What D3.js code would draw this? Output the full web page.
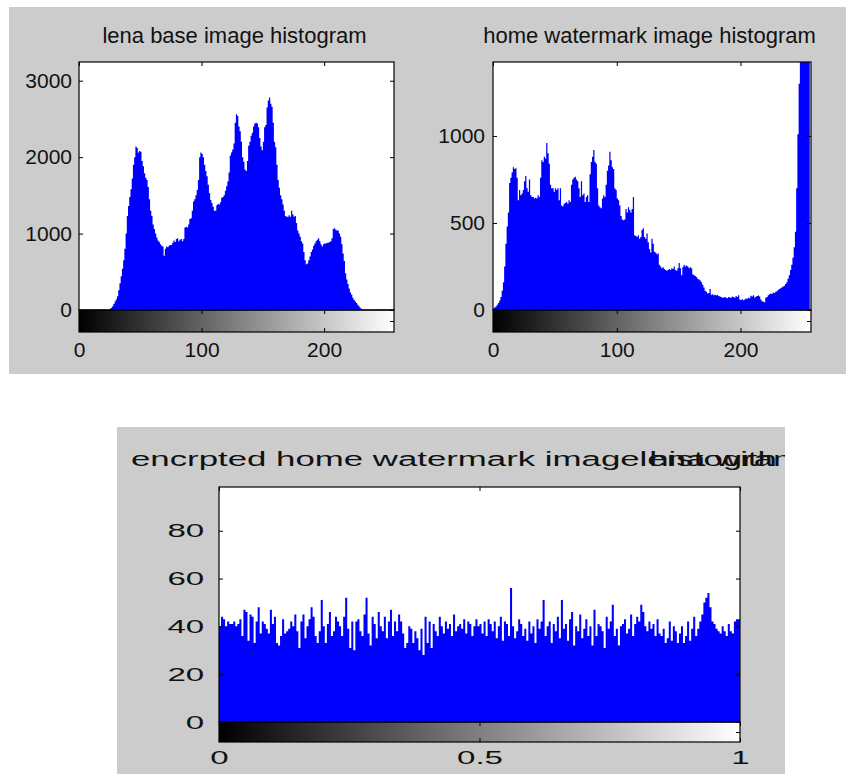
<!DOCTYPE html>
<html>
<head>
<meta charset="utf-8">
<script src="https://cdn.jsdelivr.net/npm/d3@7"></script>
<style>
  body { margin: 0; background: #ffffff; }
  svg { display: block; }
</style>
</head>
<body>
<svg id="chart" width="854" height="774"></svg>
<script>
// Grey-level histogram of the base image (256 bins, levels 0..255)
const lenaCounts = [
  0,0,0,0,0,0,0,0,0,0,0,0,0,0,0,0,
  0,0,0,0,0,0,0,0,0,15,30,50,80,110,140,180,
  260,350,440,540,650,800,1000,1230,1360,1480,1580,1720,1900,2000,2140,2120,
  2060,2080,2070,1950,1880,1790,1730,1700,1610,1450,1300,1230,1120,1060,1000,950,
  910,890,860,840,830,710,800,830,820,840,850,850,880,910,890,930,
  940,900,920,930,900,930,1080,1090,1080,1120,1190,1200,1300,1420,1450,1500,
  1570,1700,2000,2060,2040,2000,1900,1820,1750,1640,1530,1440,1400,1350,1300,1300,
  1370,1390,1380,1410,1470,1480,1500,1560,1620,1680,1800,2020,2060,2100,2180,2450,
  2560,2540,2400,2340,2200,2000,1940,1840,1820,1950,2150,2200,2280,2320,2400,2440,
  2450,2440,2390,2250,2140,2090,2200,2390,2420,2650,2740,2780,2700,2660,2450,2200,
  2130,1900,1700,1600,1500,1450,1380,1300,1230,1220,1220,1240,1220,1300,1250,1220,
  1230,1140,1040,1000,960,900,870,760,650,600,610,650,700,760,790,840,
  870,900,920,940,900,860,830,860,870,870,880,880,890,900,940,1060,
  1070,1050,1040,1040,1000,960,860,740,640,480,400,340,280,230,200,160,
  130,110,90,70,50,30,15,0,0,0,0,0,0,0,0,0,
  0,0,0,0,0,0,0,0,0,0,0,0,0,0,0,0
];

// Grey-level histogram of the watermark image (256 bins)
const homeCounts = [
  10,15,20,30,40,55,75,110,160,250,380,480,560,730,760,790,
  820,810,815,760,630,690,660,670,690,740,770,700,680,750,660,650,
  650,640,645,640,660,650,760,860,850,880,870,960,900,840,720,700,
  700,680,700,690,700,630,700,600,595,610,615,620,610,630,620,720,
  750,760,765,750,740,700,650,740,660,670,620,650,660,620,780,850,
  880,920,850,840,700,600,590,585,640,660,650,720,800,830,910,860,
  820,810,700,690,640,630,600,540,520,515,520,580,560,590,575,560,
  580,650,430,425,420,430,410,420,460,470,420,410,440,390,350,330,
  410,380,335,330,320,325,260,250,240,245,235,230,225,230,235,230,
  240,235,250,230,225,240,270,240,200,245,260,250,255,250,240,245,
  240,205,200,195,190,180,175,170,160,145,130,110,105,95,98,120,
  88,90,85,88,84,86,80,78,75,70,72,74,70,68,75,72,
  70,78,74,70,80,75,85,60,58,62,56,60,66,64,70,68,
  82,78,85,72,76,80,84,78,60,50,48,45,70,75,85,90,
  95,92,100,98,105,108,115,120,125,130,135,140,150,160,180,200,
  230,260,300,360,450,700,1010,1300,1600,1900,2300,2700,3200,3800,4500,5600
];

// Histogram of the encrypted watermark (256 bins over 0..1)
const encryptedCounts = [
  40,44,43,40,42,41,41,42,40,41,43,36,47,46,34,45,
  44,33,42,48,37,42,41,39,37,47,41,44,33,32,36,43,
  37,38,39,42,40,45,38,31,42,45,35,40,43,48,44,36,
  33,38,51,40,33,41,46,36,38,44,42,40,36,44,52,39,
  31,42,30,42,43,38,36,45,52,37,32,44,41,35,46,40,
  38,44,35,42,47,36,42,38,45,42,37,31,33,40,39,33,
  38,35,30,39,28,44,33,42,31,41,38,36,44,40,37,42,
  39,41,36,45,38,40,41,39,43,37,42,41,36,40,43,40,
  41,37,42,36,43,41,38,42,35,40,44,34,42,41,36,56,
  40,35,38,43,41,36,39,34,42,37,40,33,43,39,42,51,
  36,40,42,33,41,38,44,35,51,39,41,34,43,46,32,40,
  38,45,35,39,43,36,40,32,47,36,41,40,38,31,44,39,
  42,49,36,39,32,40,41,43,37,39,45,36,41,44,42,49,
  46,40,38,42,39,41,36,43,37,36,39,33,35,42,34,40,
  38,33,37,40,33,36,42,34,39,44,36,39,42,45,50,52,
  54,48,42,41,39,38,37,40,38,36,41,38,37,42,43,43
];

// Tick values
const lenaYTicks = [0, 1000, 2000, 3000];
const homeYTicks = [0, 500, 1000];
const encYTicks = [0, 20, 40, 60, 80];
const levelXTicks = [0, 100, 200];
const unitXTicks = [0, 0.5, 1];

// Titles
const lenaTitle = "lena base image histogram";
const homeTitle = "home watermark image histogram";
const encTitleHead = "encrpted home watermark image";
const encTitle = encTitleHead + " histogram";
const encOverlayTitle = "lena with watermark histogram";

const FONT = "'Liberation Sans', Arial, Helvetica, sans-serif";
const INK = "#111111";
const FIG_GREY = "#cccccc";
const BAR_BLUE = "#0000ff";

const svg = d3.select("#chart");
const defs = svg.append("defs");

const ramp = defs.append("linearGradient")
  .attr("id", "grayRamp")
  .attr("x1", "0%").attr("x2", "100%").attr("y1", "0%").attr("y2", "0%");
ramp.append("stop").attr("offset", "0%").attr("stop-color", "#000000");
ramp.append("stop").attr("offset", "100%").attr("stop-color", "#ffffff");

// figure backgrounds
svg.append("rect").attr("x", 9).attr("y", 7).attr("width", 837).attr("height", 367).attr("fill", FIG_GREY);
svg.append("rect").attr("x", 117).attr("y", 427).attr("width", 668).attr("height", 347).attr("fill", FIG_GREY);

function styleAxis(sel, fontSize, sx) {
  sel.select(".domain").remove();
  sel.attr("font-family", FONT).attr("font-size", fontSize).attr("color", INK);
  sel.selectAll(".tick line").attr("stroke", "#000").attr("stroke-width", 1);
  sel.selectAll("text").attr("fill", INK);
  if (sx !== 1) sel.selectAll("text").attr("transform", `scale(${sx},1)`);
}

function drawHistogram(o) {
  const g = svg.append("g");
  const x = d3.scaleLinear().domain([0, o.xMax]).range([o.box.left, o.box.right]);
  const y = d3.scaleLinear().domain([0, o.yMax]).range([o.box.zero, o.box.top]);
  const cbY = d3.scaleLinear().domain([0, 1]).range([o.box.cbBottom, o.box.zero]);
  const w = o.box.right - o.box.left;

  g.append("rect")
    .attr("x", o.box.left).attr("y", o.box.top)
    .attr("width", w).attr("height", o.box.zero - o.box.top)
    .attr("fill", "#ffffff");

  defs.append("clipPath").attr("id", o.id + "-clip")
    .append("rect")
    .attr("x", o.box.left).attr("y", o.box.top)
    .attr("width", w).attr("height", o.box.zero - o.box.top);

  const steps = o.counts.map((c, i) => ({ v: i * o.binWidth, c }));
  steps.push({ v: o.counts.length * o.binWidth, c: o.counts[o.counts.length - 1] });

  const area = d3.area()
    .curve(d3.curveStepAfter)
    .x(d => x(d.v))
    .y0(y(0))
    .y1(d => y(d.c));

  g.append("path")
    .datum(steps)
    .attr("d", area)
    .attr("fill", BAR_BLUE)
    .attr("clip-path", `url(#${o.id}-clip)`);

  // colour bar under the histogram
  g.append("rect")
    .attr("x", o.box.left).attr("y", o.box.zero)
    .attr("width", w).attr("height", o.box.cbBottom - o.box.zero)
    .attr("fill", "url(#grayRamp)");

  // frames
  g.append("rect")
    .attr("x", o.box.left).attr("y", o.box.top)
    .attr("width", w).attr("height", o.box.zero - o.box.top)
    .attr("fill", "none").attr("stroke", "#000").attr("stroke-width", 1.2);
  g.append("rect")
    .attr("x", o.box.left).attr("y", o.box.zero)
    .attr("width", w).attr("height", o.box.cbBottom - o.box.zero)
    .attr("fill", "none").attr("stroke", "#000").attr("stroke-width", 1.2);

  // y axis with labels (left), plain ticks (right)
  g.append("g")
    .attr("transform", `translate(${o.box.left},0)`)
    .call(d3.axisLeft(y).tickValues(o.yTicks).tickSizeInner(-4).tickSizeOuter(0)
      .tickPadding(o.yPad).tickFormat(d3.format("d")))
    .call(s => styleAxis(s, o.fontSize, o.sx));
  g.append("g")
    .attr("transform", `translate(${o.box.right},0)`)
    .call(d3.axisRight(y).tickValues(o.yTicks).tickSizeInner(-4).tickSizeOuter(0).tickFormat(""))
    .call(s => styleAxis(s, o.fontSize, 1));

  // top ticks of the histogram axes
  g.append("g")
    .attr("transform", `translate(0,${o.box.top})`)
    .call(d3.axisTop(x).tickValues(o.xTicks).tickSizeInner(-4).tickSizeOuter(0).tickFormat(""))
    .call(s => styleAxis(s, o.fontSize, 1));

  // colour bar ticks
  g.append("g")
    .attr("transform", `translate(0,${o.box.zero})`)
    .call(d3.axisTop(x).tickValues(o.xTicks).tickSizeInner(-4).tickSizeOuter(0).tickFormat(""))
    .call(s => styleAxis(s, o.fontSize, 1));
  g.append("g")
    .attr("transform", `translate(0,${o.box.cbBottom})`)
    .call(d3.axisBottom(x).tickValues(o.xTicks).tickSizeInner(-4).tickSizeOuter(0)
      .tickPadding(o.xPad).tickFormat(d => String(d)))
    .call(s => styleAxis(s, o.fontSize, o.sx));
  g.append("g")
    .attr("transform", `translate(${o.box.right},0)`)
    .call(d3.axisRight(cbY).tickValues([0.5]).tickSizeInner(-4).tickSizeOuter(0).tickFormat(""))
    .call(s => styleAxis(s, o.fontSize, 1));

  return { x, y };
}

drawHistogram({
  id: "lena",
  box: { left: 79, right: 394, top: 62, zero: 310, cbBottom: 332 },
  counts: lenaCounts, binWidth: 1, xMax: 257, yMax: 3245,
  yTicks: lenaYTicks, xTicks: levelXTicks,
  fontSize: 21, sx: 1, yPad: 7, xPad: 10
});

drawHistogram({
  id: "home",
  box: { left: 493, right: 811, top: 62, zero: 310, cbBottom: 332 },
  counts: homeCounts, binWidth: 1, xMax: 257, yMax: 1425,
  yTicks: homeYTicks, xTicks: levelXTicks,
  fontSize: 21, sx: 1, yPad: 8, xPad: 10
});

drawHistogram({
  id: "enc",
  box: { left: 219, right: 740, top: 487, zero: 722, cbBottom: 742 },
  counts: encryptedCounts, binWidth: 1 / 256, xMax: 1, yMax: 98.3,
  yTicks: encYTicks, xTicks: unitXTicks,
  fontSize: 19, sx: 1.74, yPad: 8.5, xPad: 9
});

// titles of the upper plots
svg.append("text")
  .attr("x", 234.5).attr("y", 43)
  .attr("text-anchor", "middle")
  .attr("font-family", FONT).attr("font-size", 22).attr("fill", INK)
  .text(lenaTitle);

svg.append("text")
  .attr("x", 649.5).attr("y", 43)
  .attr("text-anchor", "middle")
  .attr("font-family", FONT).attr("font-size", 22).attr("fill", INK)
  .text(homeTitle);

// title of the lower plot, with a second title drawn over its tail, cut at the figure edge
defs.append("clipPath").attr("id", "encTitleClip")
  .append("rect").attr("x", 117).attr("y", 427).attr("width", 668).attr("height", 60);

const titleGroup = svg.append("g").attr("clip-path", "url(#encTitleClip)");
const titleSx = 1.74;
const titleX = 131;
const titleY = 466;

const mainTitle = titleGroup.append("text")
  .attr("x", 0).attr("y", 0)
  .attr("transform", `translate(${titleX},${titleY}) scale(${titleSx},1)`)
  .attr("font-family", FONT).attr("font-size", 20).attr("fill", INK)
  .text(encTitle);

const headWidth = mainTitle.node().getSubStringLength(0, encTitleHead.length);

titleGroup.append("text")
  .attr("x", headWidth).attr("y", 0)
  .attr("transform", `translate(${titleX},${titleY}) scale(${titleSx},1)`)
  .attr("font-family", FONT).attr("font-size", 20).attr("fill", INK)
  .text(encOverlayTitle);
</script>
</body>
</html>
